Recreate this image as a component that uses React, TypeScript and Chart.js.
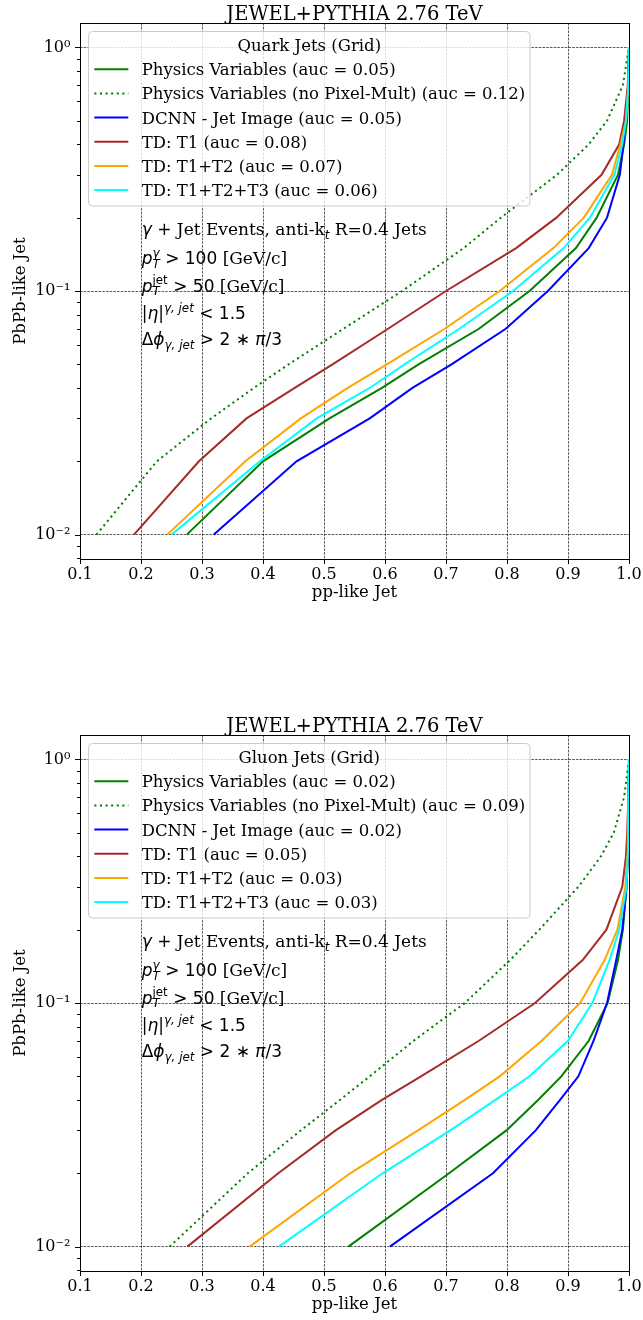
import React, { useEffect, useRef } from 'react';
import { Chart, registerables } from 'chart.js';

Chart.register(...registerables);

// ---------------- data ----------------
// PbPb-like Jet efficiency levels (y) at which each curve's pp-like Jet value (x) was read
const yLevels = [0.01, 0.02, 0.03, 0.04, 0.05, 0.07, 0.1, 0.15, 0.2, 0.3, 0.4, 0.5, 0.7, 1.0];

// Quark jets (top panel)
const quarkPhys = [0.275, 0.4, 0.509, 0.595, 0.655, 0.754, 0.837, 0.913, 0.947, 0.982, 0.992, 0.997, 0.999, 1.0];
const quarkPhysNoPM = [0.127, 0.226, 0.315, 0.385, 0.442, 0.532, 0.628, 0.729, 0.79, 0.882, 0.934, 0.964, 0.99, 1.0];
const quarkDCNN = [0.319, 0.455, 0.575, 0.645, 0.709, 0.798, 0.867, 0.934, 0.964, 0.985, 0.991, 0.994, 0.999, 1.0];
const quarkT1 = [0.1885, 0.295, 0.373, 0.452, 0.514, 0.605, 0.7, 0.815, 0.881, 0.955, 0.984, 0.992, 0.998, 1.0];
const quarkT12 = [0.243, 0.371, 0.462, 0.539, 0.603, 0.698, 0.788, 0.876, 0.926, 0.972, 0.986, 0.995, 0.999, 1.0];
const quarkT123 = [0.25, 0.395, 0.488, 0.575, 0.632, 0.722, 0.81, 0.893, 0.936, 0.976, 0.989, 0.995, 0.999, 1.0];

// Gluon jets (bottom panel)
const gluonPhys = [0.54, 0.705, 0.799, 0.851, 0.889, 0.934, 0.965, 0.982, 0.99, 0.996, 0.998, 0.999, 0.9995, 1.0];
const gluonPhysNoPM = [0.247, 0.375, 0.462, 0.526, 0.575, 0.647, 0.731, 0.805, 0.853, 0.917, 0.954, 0.975, 0.992, 1.0];
const gluonDCNN = [0.608, 0.777, 0.847, 0.887, 0.917, 0.942, 0.964, 0.979, 0.989, 0.996, 0.998, 0.999, 0.9995, 1.0];
const gluonT1 = [0.276, 0.425, 0.519, 0.595, 0.659, 0.754, 0.846, 0.924, 0.963, 0.989, 0.995, 0.997, 0.999, 1.0];
const gluonT12 = [0.378, 0.543, 0.654, 0.731, 0.788, 0.857, 0.92, 0.96, 0.981, 0.994, 0.997, 0.998, 0.999, 1.0];
const gluonT123 = [0.426, 0.596, 0.707, 0.781, 0.837, 0.9, 0.94, 0.968, 0.984, 0.996, 0.998, 0.999, 0.9995, 1.0];

const seriesNames = [
  'Physics Variables',
  'Physics Variables (no Pixel-Mult)',
  'DCNN - Jet Image',
  'TD: T1',
  'TD: T1+T2',
  'TD: T1+T2+T3',
];
const seriesColors = ['green', 'green', 'blue', 'brown', 'orange', 'cyan'];
const seriesDotted = [false, true, false, false, false, false];
const quarkAuc = ['0.05', '0.12', '0.05', '0.08', '0.07', '0.06'];
const gluonAuc = ['0.02', '0.09', '0.02', '0.05', '0.03', '0.03'];

const xTickValues = [0.1, 0.2, 0.3, 0.4, 0.5, 0.6, 0.7, 0.8, 0.9, 1.0];
const xTickLabels = ['0.1', '0.2', '0.3', '0.4', '0.5', '0.6', '0.7', '0.8', '0.9', '1.0'];
const yMajorValues = [0.01, 0.1, 1];
const yMajorLabels = ['10\u207B\u00B2', '10\u207B\u00B9', '10\u2070'];
const yMinorValues = [0.008, 0.009, 0.02, 0.03, 0.04, 0.05, 0.06, 0.07, 0.08, 0.09, 0.2, 0.3, 0.4, 0.5, 0.6, 0.7, 0.8, 0.9];

const titleText = 'JEWEL+PYTHIA 2.76 TeV';
const xLabelText = 'pp-like Jet';
const yLabelText = 'PbPb-like Jet';

type Seg = { t: string; f: 'sr' | 'mi' | 'mr'; sc?: number; stack?: boolean };
const annotLines: Seg[][] = [
  [
    { t: '\u03B3', f: 'mi' },
    { t: ' + ', f: 'mr' },
    { t: 'Jet Events, anti-k', f: 'sr' },
    { t: 't', f: 'mi', sc: -1 },
    { t: ' R=0.4 Jets', f: 'sr' },
  ],
  [
    { t: 'p', f: 'mi' },
    { t: '\u03B3', f: 'mi', sc: 1 },
    { t: 'T', f: 'mi', sc: -1, stack: true },
    { t: ' > 100', f: 'mr' },
    { t: ' [GeV/c]', f: 'sr' },
  ],
  [
    { t: 'p', f: 'mi' },
    { t: 'jet', f: 'mr', sc: 1 },
    { t: 'T', f: 'mi', sc: -1, stack: true },
    { t: ' > 50', f: 'mr' },
    { t: ' [GeV/c]', f: 'sr' },
  ],
  [
    { t: '|', f: 'mr' },
    { t: '\u03B7', f: 'mi' },
    { t: '|', f: 'mr' },
    { t: '\u03B3, jet', f: 'mi', sc: 1 },
    { t: ' < 1.5', f: 'mr' },
  ],
  [
    { t: '\u0394', f: 'mr' },
    { t: '\u03D5', f: 'mi' },
    { t: '\u03B3, jet', f: 'mi', sc: -1 },
    { t: ' > 2 \u2217 ', f: 'mr' },
    { t: '\u03C0', f: 'mi' },
    { t: '/3', f: 'mr' },
  ],
];

// ---------------- layout constants ----------------
const G = { left: 80, right: 629, top: 23, bottom: 559 };
const W = 643;
const SERIF = '"DejaVu Serif", serif';
const SANS = '"DejaVu Sans", sans-serif';
const DOT = [2.1, 3.5];
const LEG_FONT = 16.5;
const ANN_FONT = 17;

function fontFor(f: string, size: number) {
  if (f === 'sr') return `${size}px ${SERIF}`;
  if (f === 'mi') return `italic ${size}px ${SANS}`;
  return `${size}px ${SANS}`;
}

function drawRich(ctx: CanvasRenderingContext2D, x: number, y: number, segs: Seg[], size: number) {
  let cx = x;
  let prevStart = x;
  let prevEnd = x;
  for (const s of segs) {
    const sz = s.sc ? size * 0.7 : size;
    ctx.font = fontFor(s.f, sz);
    const w = ctx.measureText(s.t).width;
    const sx = s.stack ? prevStart : cx;
    const dy = s.sc === 1 ? -7.5 : s.sc === -1 ? 3.5 : 0;
    ctx.fillText(s.t, sx, y + dy);
    const end = sx + w;
    cx = s.stack ? Math.max(prevEnd, end) : end;
    prevStart = sx;
    prevEnd = cx;
  }
}

function makeDecor(legendTitle: string) {
  return {
    id: 'decor',
    afterDatasetsDraw(chart: any) {
      const ctx: CanvasRenderingContext2D = chart.ctx;
      const xs = chart.scales.x;
      const ys = chart.scales.y;
      const { left, right, top, bottom } = chart.chartArea;
      ctx.save();
      ctx.strokeStyle = '#000';
      ctx.lineWidth = 1;
      ctx.setLineDash([]);
      ctx.beginPath();
      xTickValues.forEach((v) => {
        const p = Math.round(xs.getPixelForValue(v)) + 0.5;
        ctx.moveTo(p, bottom);
        ctx.lineTo(p, bottom + 5);
      });
      yMajorValues.forEach((v) => {
        const p = Math.round(ys.getPixelForValue(v)) + 0.5;
        ctx.moveTo(left, p);
        ctx.lineTo(left - 5, p);
      });
      yMinorValues.forEach((v) => {
        const p = Math.round(ys.getPixelForValue(v)) + 0.5;
        ctx.moveTo(left, p);
        ctx.lineTo(left - 3, p);
      });
      ctx.stroke();
      ctx.strokeRect(left + 0.5, top + 0.5, right - left, bottom - top);
      ctx.restore();
    },
    afterDraw(chart: any) {
      const ctx: CanvasRenderingContext2D = chart.ctx;
      const { left, right, top, bottom } = chart.chartArea;
      const cxm = (left + right) / 2;
      ctx.save();
      ctx.fillStyle = '#000';
      ctx.textBaseline = 'alphabetic';

      // title
      ctx.font = `19.5px ${SERIF}`;
      ctx.textAlign = 'center';
      ctx.fillText(titleText, cxm, 19.5);

      // x label
      ctx.font = `16.5px ${SERIF}`;
      ctx.fillText(xLabelText, cxm, 597);

      // y label
      ctx.save();
      ctx.translate(25, (top + bottom) / 2);
      ctx.rotate(-Math.PI / 2);
      ctx.font = `16.5px ${SERIF}`;
      ctx.textAlign = 'center';
      ctx.fillText(yLabelText, 0, 0);
      ctx.restore();

      // legend box
      const lx = 88.5, ly = 31.5, lw = 441.5, lh = 174.5, r = 4;
      ctx.beginPath();
      ctx.moveTo(lx + r, ly);
      ctx.lineTo(lx + lw - r, ly);
      ctx.quadraticCurveTo(lx + lw, ly, lx + lw, ly + r);
      ctx.lineTo(lx + lw, ly + lh - r);
      ctx.quadraticCurveTo(lx + lw, ly + lh, lx + lw - r, ly + lh);
      ctx.lineTo(lx + r, ly + lh);
      ctx.quadraticCurveTo(lx, ly + lh, lx, ly + lh - r);
      ctx.lineTo(lx, ly + r);
      ctx.quadraticCurveTo(lx, ly, lx + r, ly);
      ctx.closePath();
      ctx.fillStyle = 'rgba(255,255,255,0.8)';
      ctx.fill();
      ctx.strokeStyle = '#cccccc';
      ctx.lineWidth = 1;
      ctx.stroke();

      ctx.fillStyle = '#000';
      ctx.font = `${LEG_FONT}px ${SERIF}`;
      ctx.textAlign = 'center';
      ctx.fillText(legendTitle, lx + lw / 2, 51);
      ctx.textAlign = 'left';
      chart.data.datasets.forEach((ds: any, i: number) => {
        const cy = 69.3 + i * 24.15;
        ctx.save();
        ctx.strokeStyle = ds.borderColor;
        ctx.lineWidth = 2;
        ctx.setLineDash(seriesDotted[i] ? DOT : []);
        ctx.beginPath();
        ctx.moveTo(94.3, cy);
        ctx.lineTo(128.3, cy);
        ctx.stroke();
        ctx.restore();
        ctx.fillText(ds.label, 141.7, cy + 6);
      });

      // annotation block
      const baselines = [235, 264, 291.7, 319.3, 345];
      ctx.textAlign = 'left';
      annotLines.forEach((segs, i) => drawRich(ctx, 141.7, baselines[i], segs, ANN_FONT));
      ctx.restore();
    },
  };
}

function buildConfig(curves: number[][], aucs: string[], legendTitle: string, H: number): any {
  const datasets = curves.map((xsArr, i) => ({
    label: `${seriesNames[i]} (auc = ${aucs[i]})`,
    data: xsArr.map((x, j) => ({ x, y: yLevels[j] })),
    borderColor: seriesColors[i],
    backgroundColor: seriesColors[i],
    borderWidth: 2,
    borderDash: seriesDotted[i] ? DOT : [],
    pointRadius: 0,
    pointHoverRadius: 0,
    tension: 0,
    fill: false,
    order: curves.length - i,
  }));
  const gridColor = 'rgba(0,0,0,0.8)';
  return {
    type: 'line',
    data: { datasets },
    options: {
      animation: false,
      responsive: false,
      maintainAspectRatio: false,
      devicePixelRatio: 1,
      layout: { padding: { left: 0, top: G.top, right: W - G.right, bottom: 0 } },
      plugins: { legend: { display: false }, tooltip: { enabled: false }, title: { display: false } },
      scales: {
        x: {
          type: 'linear',
          position: 'bottom',
          min: 0.1,
          max: 1.0,
          bounds: 'data',
          afterBuildTicks: (s: any) => {
            s.ticks = xTickValues.map((v) => ({ value: v }));
          },
          afterFit: (s: any) => {
            s.height = H - G.bottom;
            s.paddingLeft = 0;
            s.paddingRight = 0;
          },
          ticks: {
            autoSkip: false,
            maxRotation: 0,
            minRotation: 0,
            padding: 6.5,
            color: '#000',
            font: { family: SERIF, size: 16 },
            callback: (_v: any, idx: number) => xTickLabels[idx],
          },
          grid: { drawTicks: false, color: gridColor, lineWidth: 0.8 },
          border: { display: false, dash: [2.6, 1.1] },
        },
        y: {
          type: 'logarithmic',
          position: 'left',
          min: Math.pow(10, -2.1),
          max: Math.pow(10, 0.1),
          bounds: 'data',
          afterBuildTicks: (s: any) => {
            const all = [...yMinorValues, ...yMajorValues].sort((a, b) => a - b);
            s.ticks = all.map((v) => ({ value: v, major: yMajorValues.includes(v) }));
          },
          afterFit: (s: any) => {
            s.width = G.left;
            s.paddingTop = 0;
            s.paddingBottom = 0;
          },
          ticks: {
            autoSkip: false,
            padding: 9.6,
            color: '#000',
            font: { family: SERIF, size: 16 },
            callback: (v: any) => {
              const k = yMajorValues.indexOf(v);
              return k >= 0 ? yMajorLabels[k] : '';
            },
          },
          grid: {
            drawTicks: false,
            lineWidth: 0.8,
            color: (c: any) => (c.tick && yMajorValues.includes(c.tick.value) ? gridColor : 'rgba(0,0,0,0)'),
          },
          border: { display: false, dash: [2.6, 1.1] },
        },
      },
    },
    plugins: [makeDecor(legendTitle)],
  };
}

function RocPanel(props: { top: number; height: number; curves: number[][]; aucs: string[]; legendTitle: string }) {
  const ref = useRef<HTMLCanvasElement>(null);
  useEffect(() => {
    const canvas = ref.current;
    if (!canvas) return;
    const chart = new Chart(canvas, buildConfig(props.curves, props.aucs, props.legendTitle, props.height));
    return () => chart.destroy();
  }, []);
  return (
    <canvas
      ref={ref}
      width={W}
      height={props.height}
      style={{ position: 'absolute', left: 0, top: props.top, width: W, height: props.height, display: 'block' }}
    />
  );
}

export default function App() {
  return (
    <div style={{ position: 'absolute', left: 0, top: 0, width: W, height: 1320, background: '#fff', overflow: 'hidden' }}>
      <RocPanel
        top={0}
        height={660}
        curves={[quarkPhys, quarkPhysNoPM, quarkDCNN, quarkT1, quarkT12, quarkT123]}
        aucs={quarkAuc}
        legendTitle="Quark Jets (Grid)"
      />
      <RocPanel
        top={712}
        height={608}
        curves={[gluonPhys, gluonPhysNoPM, gluonDCNN, gluonT1, gluonT12, gluonT123]}
        aucs={gluonAuc}
        legendTitle="Gluon Jets (Grid)"
      />
    </div>
  );
}
